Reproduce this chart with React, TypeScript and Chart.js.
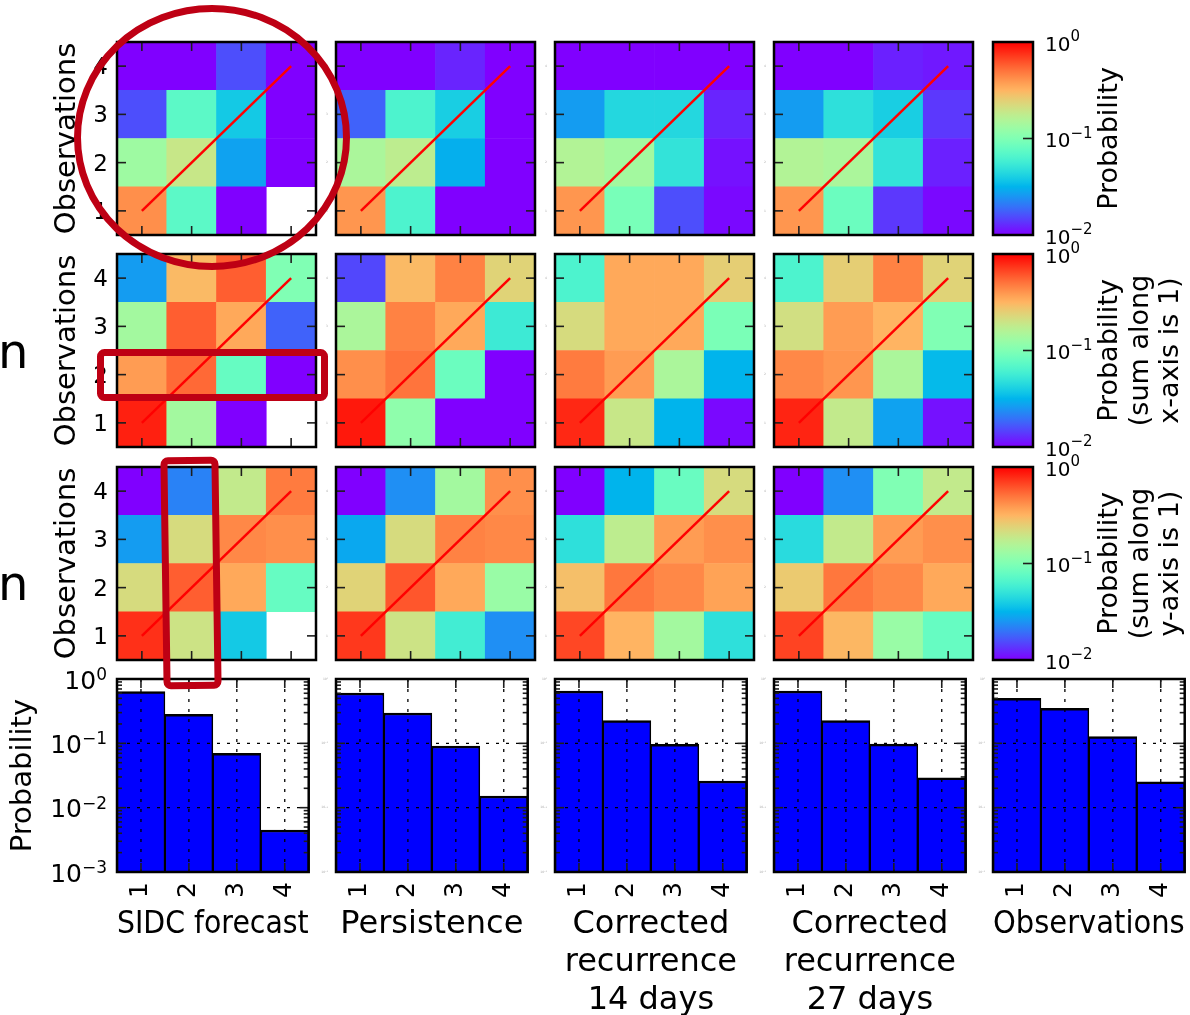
import React, { useEffect, useRef } from 'react';
import { Chart, registerables } from 'chart.js';

Chart.register(...registerables);
Chart.defaults.font.family = "'DejaVu Sans', sans-serif";
Chart.defaults.color = '#000';

// ---------------- data ----------------
const LEVELS = ['1', '2', '3', '4'];
const OBS_LEVELS = [1, 2, 3, 4];
const DIAGONAL = [1, 2, 3, 4];

// each matrix: rows = observation 1..4, columns = forecast 1..4 (null = empty cell)
// row 1: joint probability
const SIDC_JOINT = [
  [0.417, 0.0724, 0.005, null],
  [0.132, 0.191, 0.0275, 0.005],
  [0.0158, 0.0724, 0.038, 0.005],
  [0.005, 0.005, 0.0158, 0.005],
];
const PERS_JOINT = [
  [0.398, 0.0631, 0.005, 0.005],
  [0.148, 0.174, 0.0302, 0.005],
  [0.0178, 0.0631, 0.0398, 0.005],
  [0.005, 0.005, 0.0123, 0.005],
];
const REC14_JOINT = [
  [0.398, 0.0933, 0.0158, 0.0105],
  [0.158, 0.138, 0.0501, 0.011],
  [0.0263, 0.0437, 0.0437, 0.0123],
  [0.005, 0.005, 0.005, 0.005],
];
const REC27_JOINT = [
  [0.398, 0.0832, 0.0138, 0.0105],
  [0.158, 0.148, 0.0501, 0.012],
  [0.0263, 0.0479, 0.0398, 0.0138],
  [0.005, 0.005, 0.012, 0.0115],
];
// row 2: sum along x-axis is 1
const SIDC_XNORM = [
  [0.832, 0.138, 0.005, null],
  [0.38, 0.537, 0.0794, 0.005],
  [0.138, 0.575, 0.347, 0.0178],
  [0.0263, 0.302, 0.575, 0.1],
];
const PERS_XNORM = [
  [0.871, 0.115, 0.005, 0.005],
  [0.417, 0.501, 0.0832, 0.005],
  [0.148, 0.457, 0.347, 0.055],
  [0.0151, 0.302, 0.457, 0.24],
];
const REC14_XNORM = [
  [0.794, 0.191, 0.0316, 0.0105],
  [0.479, 0.38, 0.148, 0.0316],
  [0.219, 0.347, 0.347, 0.0955],
  [0.0631, 0.347, 0.347, 0.251],
];
const REC27_XNORM = [
  [0.813, 0.182, 0.0275, 0.011],
  [0.437, 0.398, 0.148, 0.0331],
  [0.209, 0.38, 0.316, 0.1],
  [0.0631, 0.251, 0.457, 0.24],
];
// row 3: sum along y-axis is 1
const SIDC_YNORM = [
  [0.759, 0.2, 0.038, null],
  [0.219, 0.575, 0.347, 0.0794],
  [0.0263, 0.219, 0.437, 0.417],
  [0.005, 0.0219, 0.182, 0.479],
];
const PERS_YNORM = [
  [0.724, 0.2, 0.0575, 0.024],
  [0.24, 0.603, 0.347, 0.126],
  [0.0288, 0.219, 0.457, 0.437],
  [0.005, 0.024, 0.138, 0.417],
];
const REC14_YNORM = [
  [0.661, 0.316, 0.138, 0.0479],
  [0.288, 0.49, 0.437, 0.363],
  [0.0479, 0.174, 0.38, 0.417],
  [0.005, 0.0316, 0.0813, 0.219],
];
const REC27_YNORM = [
  [0.676, 0.309, 0.126, 0.0794],
  [0.263, 0.49, 0.437, 0.347],
  [0.0457, 0.182, 0.38, 0.417],
  [0.005, 0.024, 0.1, 0.182],
];

// bottom row: marginal distributions
const SIDC_MARGINAL = [0.635, 0.283, 0.07, 0.0045];
const PERS_MARGINAL = [0.605, 0.296, 0.091, 0.0152];
const REC14_MARGINAL = [0.65, 0.225, 0.0966, 0.026];
const REC27_MARGINAL = [0.65, 0.225, 0.097, 0.029];
const OBS_MARGINAL = [0.5, 0.35, 0.127, 0.0253];

const COLUMN_TITLES = [
  ['SIDC forecast'],
  ['Persistence'],
  ['Corrected', 'recurrence', '14 days'],
  ['Corrected', 'recurrence', '27 days'],
  ['Observations'],
];
const COLORBAR_LABELS = [
  ['Probability'],
  ['Probability', '(sum along', 'x-axis is 1)'],
  ['Probability', '(sum along', 'y-axis is 1)'],
];
const COLORBAR_TICKS = [0.01, 0.1, 1];
const COLORBAR_INNER_TICKS = [0.1];
const BAR_Y_TICKS = [0.001, 0.01, 0.1, 1];
const BAR_GRID_Y = [0.01, 0.1];
const BAR_MINOR = [-3, -2, -1].flatMap((d) => [2, 3, 4, 5, 6, 7, 8, 9].map((k) => k * Math.pow(10, d)));

const HEATMAPS = [
  [SIDC_JOINT, PERS_JOINT, REC14_JOINT, REC27_JOINT],
  [SIDC_XNORM, PERS_XNORM, REC14_XNORM, REC27_XNORM],
  [SIDC_YNORM, PERS_YNORM, REC14_YNORM, REC27_YNORM],
];
const MARGINALS = [SIDC_MARGINAL, PERS_MARGINAL, REC14_MARGINAL, REC27_MARGINAL, OBS_MARGINAL];

// ---------------- layout ----------------
const FONT = 'DejaVu Sans';
const COL_X = [117, 336, 555, 774, 993];
const ROW_Y = [42, 254, 467];
const BAR_TOP = 679;
const PW = 199;
const PH = 193;
const CB_X = 993;
const CB_W = 40;

function rainbow(t: number) {
  const x = Math.min(1, Math.max(0, t));
  const r = Math.min(1, Math.abs(2 * x - 0.5));
  const g = Math.sin(Math.PI * x);
  const b = Math.cos((Math.PI * x) / 2);
  return `rgb(${Math.round(r * 255)},${Math.round(g * 255)},${Math.round(b * 255)})`;
}
function probColor(p: number | null) {
  if (p == null) return 'rgba(0,0,0,0)';
  return rainbow((Math.log10(p) + 2) / 2);
}

function drawPow(ctx: CanvasRenderingContext2D, x: number, y: number, v: number, align: string, base: number, sup: number, color: string, dyBase: number, dySup: number) {
  const e = Math.round(Math.log10(v));
  const es = e < 0 ? '\u2212' + Math.abs(e) : String(e);
  ctx.font = `${base}px "${FONT}"`;
  const wb = ctx.measureText('10').width;
  ctx.font = `${sup}px "${FONT}"`;
  const ws = ctx.measureText(es).width;
  const x0 = align === 'right' ? x - wb - ws : x;
  ctx.fillStyle = color;
  ctx.textAlign = 'left';
  ctx.font = `${base}px "${FONT}"`;
  ctx.textBaseline = 'middle';
  ctx.fillText('10', x0, y + dyBase);
  ctx.font = `${sup}px "${FONT}"`;
  ctx.textBaseline = 'alphabetic';
  ctx.fillText(es, x0 + wb, y + dySup);
}

function makeFrame(spec: any) {
  return {
    id: 'frame',
    afterDatasetsDraw(chart: any) {
      const { ctx, chartArea } = chart;
      const { left, right, top, bottom } = chartArea;
      const xs = chart.scales.x;
      const ys = chart.scales.y;
      const seg = (a: number, b: number, c: number, d: number) => {
        ctx.beginPath();
        ctx.moveTo(a, b);
        ctx.lineTo(c, d);
        ctx.stroke();
      };
      ctx.save();
      if (spec.gridX || spec.gridY) {
        ctx.strokeStyle = '#000';
        ctx.lineWidth = 1.3;
        ctx.setLineDash([3, 7]);
        (spec.gridX || []).forEach((i: number) => {
          const px = xs.getPixelForValue(i);
          seg(px, top, px, bottom);
        });
        (spec.gridY || []).forEach((v: number) => {
          const py = ys.getPixelForValue(v);
          seg(left, py, right, py);
        });
        ctx.setLineDash([]);
      }
      ctx.strokeStyle = '#1e1e1e';
      ctx.lineWidth = 1.6;
      const L = spec.tickLen;
      (spec.xTicks || []).forEach((i: number) => {
        const px = xs.getPixelForValue(i);
        seg(px, top, px, top + L);
        seg(px, bottom, px, bottom - L);
      });
      (spec.yMajor || []).forEach((v: number) => {
        const py = ys.getPixelForValue(v);
        if (!spec.rightOnly) seg(left, py, left + L, py);
        seg(right, py, right - L, py);
      });
      (spec.yMinor || []).forEach((v: number) => {
        const py = ys.getPixelForValue(v);
        seg(left, py, left + spec.minorLen, py);
        seg(right, py, right - spec.minorLen, py);
      });
      ctx.strokeStyle = '#000';
      ctx.lineWidth = 2.5;
      ctx.strokeRect(left, top, right - left, bottom - top);
      ctx.restore();
    },
    afterDraw(chart: any) {
      const { ctx, chartArea } = chart;
      const ys = chart.scales.y;
      ctx.save();
      if (spec.yLabels) {
        const yl = spec.yLabels;
        ctx.fillStyle = yl.color;
        ctx.font = `${yl.size}px "${FONT}"`;
        ctx.textAlign = 'right';
        ctx.textBaseline = 'middle';
        yl.values.forEach((v: number) => {
          ctx.fillText(String(v), chartArea.left - yl.gap, ys.getPixelForValue(v) + yl.dy);
        });
      }
      if (spec.pow) {
        const p = spec.pow;
        p.values.forEach((v: number) => {
          const py = ys.getPixelForValue(v);
          if (p.side === 'left') drawPow(ctx, chartArea.left - p.gap, py, v, 'right', p.base, p.sup, p.color, p.dyBase, p.dySup);
          else drawPow(ctx, chartArea.right + p.gap, py, v, 'left', p.base, p.sup, p.color, p.dyBase, p.dySup);
        });
      }
      if (spec.label) {
        const lb = spec.label;
        const cy = (chartArea.top + chartArea.bottom) / 2;
        ctx.fillStyle = '#000';
        ctx.font = `${lb.size}px "${FONT}"`;
        ctx.textAlign = 'center';
        ctx.textBaseline = 'middle';
        lb.lines.forEach((line: string, i: number) => {
          ctx.save();
          ctx.translate(chartArea.right + lb.offset + i * lb.step, cy);
          ctx.rotate(-Math.PI / 2);
          ctx.fillText(line, 0, 0);
          ctx.restore();
        });
      }
      ctx.restore();
    },
  };
}

function heatmapConfig(matrix: (number | null)[][], first: boolean, L: number, B: number) {
  const datasets: any[] = [
    {
      type: 'line',
      data: DIAGONAL,
      borderColor: '#ff0000',
      borderWidth: 2.5,
      pointRadius: 0,
      order: 0,
    },
  ];
  matrix.forEach((row, i) => {
    const o = OBS_LEVELS[i];
    datasets.push({
      type: 'bar',
      order: 1,
      grouped: false,
      barPercentage: 1,
      categoryPercentage: 1,
      borderWidth: 0,
      data: row.map((v) => (v == null ? null : [o - 0.5, o + 0.5])),
      backgroundColor: row.map((v) => probColor(v)),
    });
  });
  return {
    type: 'bar',
    data: { labels: LEVELS, datasets },
    options: {
      animation: false,
      responsive: false,
      events: [],
      layout: { autoPadding: false, padding: { top: 10, right: 10, left: 0, bottom: 0 } },
      plugins: { legend: { display: false }, tooltip: { enabled: false } },
      scales: {
        x: {
          type: 'category',
          offset: true,
          grid: { display: false, drawTicks: false },
          border: { display: false },
          ticks: { display: false },
          afterFit: (s: any) => {
            s.height = B;
          },
        },
        y: {
          type: 'linear',
          min: 0.5,
          max: 4.5,
          grid: { display: false, drawTicks: false },
          border: { display: false },
          ticks: { display: false },
          title: { display: first, text: 'Observations', color: '#000', font: { size: 29 }, padding: { top: 50, bottom: 0 } },
          afterFit: (s: any) => {
            s.width = L;
          },
        },
      },
    },
    plugins: [
      makeFrame({
        xTicks: [0, 1, 2, 3],
        yMajor: OBS_LEVELS,
        tickLen: 9,
        yLabels: first
          ? { values: OBS_LEVELS, size: 23, color: '#000', gap: 9, dy: 2 }
          : { values: OBS_LEVELS, size: 3, color: '#aaa', gap: 8, dy: 0 },
      }),
    ],
  };
}

function barConfig(values: number[], title: string[], first: boolean, L: number, B: number) {
  return {
    type: 'bar',
    data: {
      labels: LEVELS,
      datasets: [
        {
          data: values,
          backgroundColor: '#0000ff',
          borderColor: '#000',
          borderWidth: { top: 2.5, left: 1.5, right: 1.5, bottom: 0 },
          borderSkipped: false,
          barPercentage: 1,
          categoryPercentage: 1,
        },
      ],
    },
    options: {
      animation: false,
      responsive: false,
      events: [],
      layout: { autoPadding: false, padding: { top: 19, right: 10, left: 0, bottom: 0 } },
      plugins: { legend: { display: false }, tooltip: { enabled: false } },
      scales: {
        x: {
          type: 'category',
          offset: true,
          grid: { display: false, drawTicks: false },
          border: { display: false },
          ticks: { minRotation: 90, maxRotation: 90, padding: 10, color: '#000', font: { size: 25 } },
          title: {
            display: true,
            text: title,
            color: '#000',
            font: { size: 32, lineHeight: '38px' },
            padding: { top: 0, bottom: title.length === 1 ? 96 : 20 },
          },
          afterFit: (s: any) => {
            s.height = B;
          },
        },
        y: {
          type: 'logarithmic',
          min: 0.001,
          max: 1,
          grid: { display: false, drawTicks: false },
          border: { display: false },
          ticks: { display: false },
          title: { display: first, text: 'Probability', color: '#000', font: { size: 29 }, padding: { top: 6, bottom: 0 } },
          afterFit: (s: any) => {
            s.width = L;
          },
        },
      },
    },
    plugins: [
      makeFrame({
        xTicks: [0, 1, 2, 3],
        yMajor: BAR_GRID_Y,
        yMinor: BAR_MINOR,
        tickLen: 9,
        minorLen: 5,
        gridX: [0, 1, 2, 3],
        gridY: BAR_GRID_Y,
        pow: first
          ? { values: BAR_Y_TICKS, side: 'left', base: 25, sup: 17, color: '#000', gap: 10, dyBase: 3, dySup: 1 }
          : { values: BAR_Y_TICKS, side: 'left', base: 3, sup: 2, color: '#aaa', gap: 8, dyBase: 0, dySup: 0 },
      }),
    ],
  };
}

function colorbarConfig(lines: string[], padL: number, padR: number, padT: number, padB: number) {
  return {
    type: 'bar',
    data: {
      labels: [''],
      datasets: [
        {
          data: [[COLORBAR_TICKS[0], COLORBAR_TICKS[COLORBAR_TICKS.length - 1]]],
          barPercentage: 1,
          categoryPercentage: 1,
          borderWidth: 0,
          backgroundColor: (c: any) => {
            const { chart } = c;
            const area = chart.chartArea;
            if (!area) return '#888';
            const g = chart.ctx.createLinearGradient(0, area.bottom, 0, area.top);
            for (let i = 0; i <= 40; i++) g.addColorStop(i / 40, rainbow(i / 40));
            return g;
          },
        },
      ],
    },
    options: {
      animation: false,
      responsive: false,
      events: [],
      layout: { autoPadding: false, padding: { top: padT, right: padR, left: padL, bottom: padB } },
      plugins: { legend: { display: false }, tooltip: { enabled: false } },
      scales: {
        x: { type: 'category', display: false, offset: true },
        y: { type: 'logarithmic', display: false, min: COLORBAR_TICKS[0], max: COLORBAR_TICKS[COLORBAR_TICKS.length - 1] },
      },
    },
    plugins: [
      makeFrame({
        yMajor: COLORBAR_INNER_TICKS,
        rightOnly: true,
        tickLen: 10,
        pow: { values: COLORBAR_TICKS, side: 'right', base: 20, sup: 15, color: '#000', gap: 12, dyBase: 3.5, dySup: -1 },
        label: { lines, offset: 77, step: 30.5, size: 27 },
      }),
    ],
  };
}

function ChartBox(props: { left: number; top: number; width: number; height: number; make: () => any }) {
  const ref = useRef<HTMLCanvasElement>(null);
  useEffect(() => {
    const chart = new Chart(ref.current as HTMLCanvasElement, props.make());
    return () => chart.destroy();
  }, []);
  return (
    <canvas
      ref={ref}
      width={props.width}
      height={props.height}
      style={{ position: 'absolute', left: props.left, top: props.top, width: props.width, height: props.height }}
    />
  );
}

export default function App() {
  const boxes: any[] = [];
  HEATMAPS.forEach((rowMats, r) => {
    rowMats.forEach((m, c) => {
      const first = c === 0;
      const L = first ? 117 : 20;
      const T = 10, R = 10, B = 10;
      boxes.push(
        <ChartBox
          key={`h${r}${c}`}
          left={COL_X[c] - L}
          top={ROW_Y[r] - T}
          width={L + PW + R}
          height={T + PH + B}
          make={() => heatmapConfig(m, first, L, B)}
        />
      );
    });
    const padL = 8, padT = 20, padB = 20;
    const width = 205;
    boxes.push(
      <ChartBox
        key={`cb${r}`}
        left={CB_X - padL}
        top={ROW_Y[r] - padT}
        width={width}
        height={padT + PH + padB}
        make={() => colorbarConfig(COLORBAR_LABELS[r], padL, width - padL - CB_W, padT, padB)}
      />
    );
  });
  MARGINALS.forEach((vals, c) => {
    const first = c === 0;
    const L = first ? 117 : 20;
    const top = BAR_TOP - 19;
    const height = 1040 - top;
    const B = 1040 - (BAR_TOP + PH);
    boxes.push(
      <ChartBox
        key={`b${c}`}
        left={COL_X[c] - L}
        top={top}
        width={L + PW + 10}
        height={height}
        make={() => barConfig(vals, COLUMN_TITLES[c], first, L, B)}
      />
    );
  });
  const red = '#be0014';
  return (
    <div style={{ position: 'absolute', left: 0, top: 0, width: 1190, height: 1015, overflow: 'hidden', background: '#fff' }}>
      {boxes}
      <svg width={1190} height={1015} style={{ position: 'absolute', left: 0, top: 0, pointerEvents: 'none' }}>
        <text x={-2} y={368} fontSize={48} fontFamily={FONT} fill="#000">n</text>
        <text x={-2} y={600} fontSize={48} fontFamily={FONT} fill="#000">n</text>
        <ellipse cx={212} cy={137.5} rx={134.5} ry={129} fill="none" stroke={red} strokeWidth={7} />
        <rect x={100.5} y={352.5} width={224} height={45} rx={4} fill="none" stroke={red} strokeWidth={7} />
        <rect x={165.5} y={460.5} width={51} height={225} rx={4} fill="none" stroke={red} strokeWidth={7} transform="rotate(-0.8 191 573)" />
      </svg>
    </div>
  );
}
